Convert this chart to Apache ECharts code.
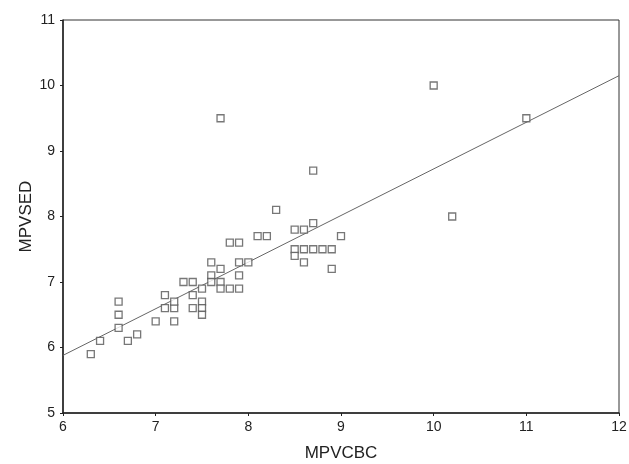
<!DOCTYPE html>
<html><head><meta charset="utf-8">
<script src="https://cdn.jsdelivr.net/npm/echarts@6/dist/echarts.min.js"></script>
<style>html,body{margin:0;padding:0;background:#fff}#c{width:629px;height:464px}</style>
</head><body><div id="c"></div>
<script>
const mpvCBC = [6.3,6.4,6.6,6.6,6.6,6.7,6.8,7.0,7.1,7.1,7.2,7.2,7.2,7.3,7.4,7.4,7.4,7.5,7.5,7.5,7.5,7.6,7.6,7.6,7.7,7.7,7.7,7.7,7.8,7.8,7.9,7.9,7.9,7.9,8.0,8.1,8.2,8.3,8.5,8.5,8.5,8.6,8.6,8.6,8.7,8.7,8.7,8.8,8.9,8.9,9.0,10.0,10.2,11.0];
const mpvSED = [5.9,6.1,6.3,6.5,6.7,6.1,6.2,6.4,6.6,6.8,6.4,6.6,6.7,7.0,7.0,6.8,6.6,6.9,6.7,6.6,6.5,7.3,7.1,7.0,7.2,7.0,6.9,9.5,7.6,6.9,7.6,7.3,7.1,6.9,7.3,7.7,7.7,8.1,7.8,7.5,7.4,7.8,7.5,7.3,7.9,7.5,8.7,7.5,7.5,7.2,7.7,10.0,8.0,9.5];
const fitX = [6, 12];
const fitY = [5.88, 10.15];
const points = mpvCBC.map((x, i) => [x, mpvSED[i]]);
const fit = fitX.map((x, i) => [x, fitY[i]]);
const chart = echarts.init(document.getElementById('c'));
const ff = 'Liberation Sans, Arial, sans-serif';
const lbl = {color:'#222', fontFamily:ff, fontSize:14};
chart.setOption({
  animation:false,
  grid:{left:63, right:10, top:20, bottom:51, containLabel:false, outerBoundsMode:'none', show:true, borderColor:'#333', borderWidth:1, backgroundColor:'#fff'},
  xAxis:{type:'value', min:6, max:12, interval:1, name:'MPVCBC', nameLocation:'middle', nameGap:32, nameMoveOverlap:false,
    nameTextStyle:{color:'#222', fontFamily:ff, fontSize:17},
    axisLine:{lineStyle:{color:'#222', width:1.5}}, axisTick:{show:true, length:3, lineStyle:{color:'#222'}},
    axisLabel:Object.assign({margin:7}, lbl), splitLine:{show:false}},
  yAxis:{type:'value', min:5, max:11, interval:1, name:'MPVSED', nameLocation:'middle', nameGap:28, nameMoveOverlap:false,
    nameTextStyle:{color:'#222', fontFamily:ff, fontSize:17},
    axisLine:{show:true, lineStyle:{color:'#222', width:1.5}}, axisTick:{show:true, length:3, lineStyle:{color:'#222'}},
    axisLabel:Object.assign({margin:8}, lbl), splitLine:{show:false}},
  series:[
    {type:'line', data:fit, symbol:'none', lineStyle:{color:'#666', width:1}, z:1},
    {type:'scatter', data:points, symbol:'rect', symbolSize:7,
     itemStyle:{color:'#fff', borderColor:'#555', borderWidth:1.3}, z:2}
  ]
});
</script></body></html>
